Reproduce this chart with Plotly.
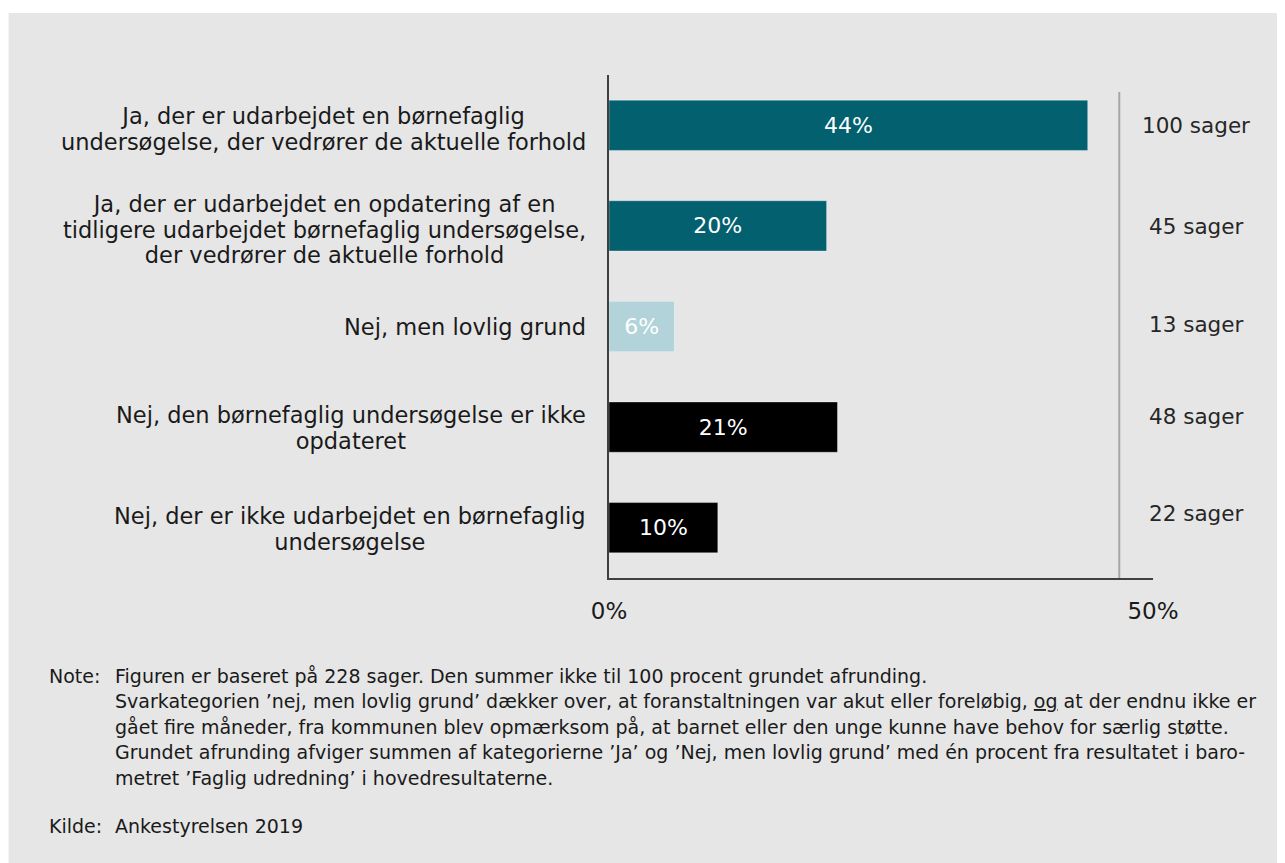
import plotly.graph_objects as go

# ── Data ─────────────────────────────────────────────
categories = [
    "Ja, der er udarbejdet en børnefaglig<br>undersøgelse, der vedrører de aktuelle forhold",
    "Ja, der er udarbejdet en opdatering af en<br>tidligere udarbejdet børnefaglig undersøgelse,<br>der vedrører de aktuelle forhold",
    "Nej, men lovlig grund",
    "Nej, den børnefaglig undersøgelse er ikke<br>opdateret",
    "Nej, der er ikke udarbejdet en børnefaglig<br>undersøgelse",
]
percent = [44, 20, 6, 21, 10]
cases = [100, 45, 13, 48, 22]
x_ticks = [0, 50]
x_tick_labels = ["0%", "50%"]

note_lines = [
    "Figuren er baseret på 228 sager. Den summer ikke til 100 procent grundet afrunding.",
    "Svarkategorien ’nej, men lovlig grund’ dækker over, at foranstaltningen var akut eller foreløbig, <u>og</u> at der endnu ikke er",
    "gået fire måneder, fra kommunen blev opmærksom på, at barnet eller den unge kunne have behov for særlig støtte.",
    "Grundet afrunding afviger summen af kategorierne ’Ja’ og ’Nej, men lovlig grund’ med én procent fra resultatet i baro-",
    "metret ’Faglig udredning’ i hovedresultaterne.",
]
source = "Ankestyrelsen 2019"

# ── Style ────────────────────────────────────────────
TEAL = "#03606f"
LIGHT = "#b1d3d9"
BLACK = "#000000"
bar_colors = [TEAL, TEAL, LIGHT, BLACK, BLACK]
PANEL = "#e6e6e6"
FONT = "DejaVu Sans, Verdana, sans-serif"
TEXT = "#1a1a1a"

# page body adds an 8px margin, so the figure is a bit smaller than the window
PAGE_OFF = 8
W, H = 1285 - PAGE_OFF, 863 - PAGE_OFF
L, R, T, B = 609, 1152.6, 75, 578   # plot area in window pixels
PW, PH = R - L, B - T


def px_x(px):
    return (px - L) / PW


def px_y(py):
    return (B - py) / PH


ypos = list(range(len(categories)))

fig = go.Figure(go.Bar(
    x=percent,
    y=ypos,
    orientation="h",
    width=0.5,
    marker=dict(color=bar_colors, line=dict(color="rgba(255,255,255,0.35)", width=1)),
    text=[f"{p}%" for p in percent],
    textposition="inside",
    insidetextanchor="middle",
    textfont=dict(color="white", size=22, family=FONT),
    hoverinfo="skip",
))

annotations = []
# base size sets the line spacing, the span sets the glyph size
label_shift = [-4, -4, 0, -1, -1]
for yv, label, sh in zip(ypos, categories, label_shift):
    lines = label.split("<br>")
    styled = "<br>".join(f'<span style="font-size:22.5px">{ln}</span>' for ln in lines)
    annotations.append(dict(
        x=px_x(588), xref="paper", y=yv, yref="y", yshift=sh,
        text=styled, showarrow=False, xanchor="right", align="center",
        font=dict(size=19.8, color=TEXT, family=FONT),
    ))

case_shift = [0, -1, 2, 11, 14]
for yv, n, sh in zip(ypos, cases, case_shift):
    annotations.append(dict(
        x=px_x(1196), xref="paper", y=yv, yref="y", yshift=sh,
        text=f"{n} sager", showarrow=False, xanchor="center",
        font=dict(size=21.5, color="#262626", family=FONT),
    ))

NOTE_SIZE = 19
note_y = [676, 701, 727, 752, 778]
annotations.append(dict(
    x=px_x(47), xref="paper", y=px_y(note_y[0]), yref="paper",
    text="Note:", showarrow=False, xanchor="left", yanchor="middle",
    font=dict(size=NOTE_SIZE, color=TEXT, family=FONT),
))
for py, line in zip(note_y, note_lines):
    annotations.append(dict(
        x=px_x(113), xref="paper", y=px_y(py), yref="paper",
        text=line, showarrow=False, xanchor="left", yanchor="middle",
        font=dict(size=NOTE_SIZE, color=TEXT, family=FONT),
    ))
annotations.append(dict(
    x=px_x(47), xref="paper", y=px_y(826), yref="paper",
    text="Kilde:", showarrow=False, xanchor="left", yanchor="middle",
    font=dict(size=NOTE_SIZE, color=TEXT, family=FONT),
))
annotations.append(dict(
    x=px_x(113), xref="paper", y=px_y(826), yref="paper",
    text=source, showarrow=False, xanchor="left", yanchor="middle",
    font=dict(size=NOTE_SIZE, color=TEXT, family=FONT),
))

shapes = [
    # grey panel behind everything
    dict(type="rect", xref="paper", yref="paper", layer="below",
         x0=px_x(9), x1=px_x(1295), y0=px_y(875), y1=px_y(13),
         fillcolor=PANEL, line=dict(width=0)),
    # reference line next to the case counts
    dict(type="line", xref="x", yref="paper", x0=46.9, x1=46.9,
         y0=0, y1=px_y(92), line=dict(color="#a6a6a6", width=2)),
]

fig.update_layout(
    width=W, height=H,
    margin=dict(l=L - PAGE_OFF, r=1285 - R, t=T - PAGE_OFF, b=863 - B, pad=0),
    paper_bgcolor="white",
    plot_bgcolor="rgba(0,0,0,0)",
    showlegend=False,
    font=dict(family=FONT, color=TEXT),
    xaxis=dict(
        range=[0, 50], tickvals=x_ticks, ticktext=x_tick_labels,
        ticks="inside", ticklen=7, tickcolor="#404040", tickwidth=1.5,
        showline=True, linecolor="#404040", linewidth=1.5,
        showgrid=False, zeroline=False, ticklabelstandoff=12,
        tickfont=dict(size=23, color=TEXT, family=FONT),
    ),
    yaxis=dict(
        range=[len(categories) - 0.5, -0.5], showticklabels=False,
        showline=True, linecolor="#404040", linewidth=1.5,
        showgrid=False, zeroline=False, ticks="",
    ),
    annotations=annotations,
    shapes=shapes,
)

fig.write_html("out.html")
